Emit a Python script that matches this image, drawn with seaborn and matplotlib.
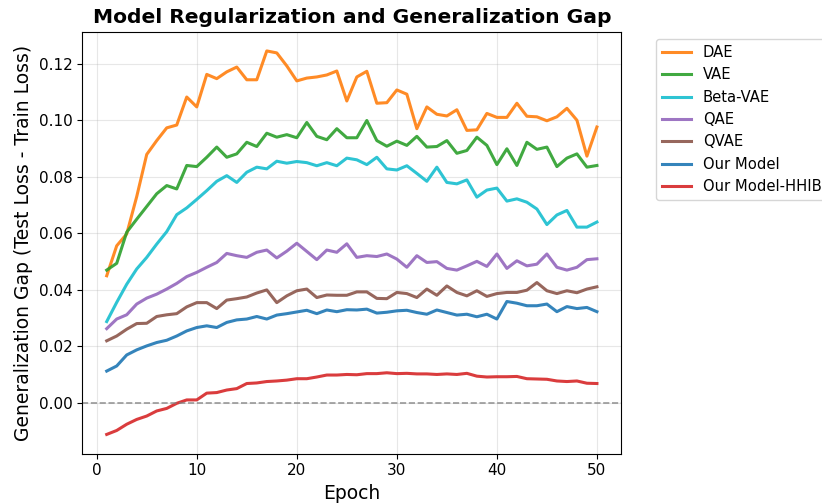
import numpy as np
import pandas as pd
import seaborn as sns
import matplotlib
matplotlib.use("Agg")
import matplotlib.pyplot as plt

# Generalization gap per epoch
epochs = list(range(1, 51))

dae = [0.0450, 0.0556, 0.0598, 0.0730, 0.0879, 0.0928, 0.0973, 0.0983, 0.1082, 0.1047,
       0.1162, 0.1147, 0.1171, 0.1188, 0.1143, 0.1143, 0.1245, 0.1238, 0.1192, 0.1139,
       0.1149, 0.1153, 0.1160, 0.1174, 0.1068, 0.1153, 0.1173, 0.1060, 0.1062, 0.1107,
       0.1092, 0.0970, 0.1047, 0.1021, 0.1015, 0.1037, 0.0964, 0.0966, 0.1024, 0.1010,
       0.1010, 0.1060, 0.1014, 0.1012, 0.0998, 0.1012, 0.1042, 0.1000, 0.0873, 0.0976]
vae = [0.0470, 0.0494, 0.0604, 0.0650, 0.0695, 0.0740, 0.0769, 0.0757, 0.0840, 0.0836,
       0.0869, 0.0905, 0.0869, 0.0881, 0.0922, 0.0907, 0.0954, 0.0940, 0.0949, 0.0938,
       0.0992, 0.0943, 0.0931, 0.0970, 0.0938, 0.0938, 0.0999, 0.0928, 0.0908, 0.0926,
       0.0911, 0.0943, 0.0905, 0.0907, 0.0928, 0.0883, 0.0893, 0.0940, 0.0911, 0.0843,
       0.0899, 0.0840, 0.0922, 0.0897, 0.0905, 0.0836, 0.0866, 0.0881, 0.0834, 0.0840]
beta_vae = [0.0288, 0.0356, 0.0420, 0.0474, 0.0515, 0.0562, 0.0606, 0.0666, 0.0690, 0.0720,
            0.0751, 0.0784, 0.0804, 0.0780, 0.0816, 0.0834, 0.0828, 0.0855, 0.0848, 0.0854,
            0.0850, 0.0839, 0.0850, 0.0839, 0.0866, 0.0860, 0.0843, 0.0869, 0.0828, 0.0824,
            0.0839, 0.0812, 0.0784, 0.0834, 0.0780, 0.0775, 0.0789, 0.0728, 0.0753, 0.0760,
            0.0714, 0.0722, 0.0710, 0.0686, 0.0631, 0.0665, 0.0681, 0.0622, 0.0622, 0.0640]
qae = [0.0263, 0.0297, 0.0312, 0.0350, 0.0371, 0.0385, 0.0403, 0.0423, 0.0447, 0.0462,
       0.0480, 0.0497, 0.0529, 0.0521, 0.0515, 0.0533, 0.0541, 0.0513, 0.0537, 0.0565,
       0.0536, 0.0507, 0.0541, 0.0533, 0.0563, 0.0515, 0.0521, 0.0518, 0.0527, 0.0509,
       0.0480, 0.0521, 0.0497, 0.0500, 0.0476, 0.0470, 0.0485, 0.0501, 0.0483, 0.0527,
       0.0476, 0.0503, 0.0485, 0.0491, 0.0527, 0.0480, 0.0470, 0.0480, 0.0507, 0.0510]
qvae = [0.0220, 0.0237, 0.0261, 0.0281, 0.0282, 0.0306, 0.0312, 0.0316, 0.0340, 0.0355,
        0.0355, 0.0334, 0.0364, 0.0369, 0.0375, 0.0389, 0.0400, 0.0355, 0.0379, 0.0397,
        0.0403, 0.0373, 0.0382, 0.0381, 0.0381, 0.0393, 0.0393, 0.0370, 0.0369, 0.0391,
        0.0387, 0.0373, 0.0403, 0.0381, 0.0414, 0.0391, 0.0379, 0.0397, 0.0377, 0.0387,
        0.0391, 0.0391, 0.0399, 0.0426, 0.0397, 0.0387, 0.0397, 0.0390, 0.0403, 0.0411]
our_model = [0.0113, 0.0131, 0.0170, 0.0188, 0.0202, 0.0214, 0.0222, 0.0237, 0.0255, 0.0267,
             0.0273, 0.0267, 0.0285, 0.0294, 0.0297, 0.0306, 0.0297, 0.0311, 0.0316, 0.0322,
             0.0328, 0.0316, 0.0329, 0.0323, 0.0330, 0.0329, 0.0332, 0.0318, 0.0321, 0.0326,
             0.0328, 0.0320, 0.0314, 0.0329, 0.0320, 0.0311, 0.0314, 0.0305, 0.0314, 0.0297,
             0.0359, 0.0353, 0.0344, 0.0344, 0.0350, 0.0323, 0.0341, 0.0334, 0.0338, 0.0323]
our_model_hhib = [-0.0111, -0.0097, -0.0075, -0.0058, -0.0046, -0.0028, -0.0019, -0.0001, 0.0011, 0.0011,
                  0.0035, 0.0037, 0.0046, 0.0051, 0.0069, 0.0071, 0.0076, 0.0078, 0.0081, 0.0086,
                  0.0086, 0.0092, 0.0099, 0.0099, 0.0101, 0.0100, 0.0104, 0.0104, 0.0107, 0.0104,
                  0.0105, 0.0103, 0.0103, 0.0101, 0.0103, 0.0101, 0.0105, 0.0095, 0.0092, 0.0093,
                  0.0093, 0.0094, 0.0086, 0.0085, 0.0084, 0.0078, 0.0076, 0.0078, 0.0070, 0.0069]

models = ['DAE', 'VAE', 'Beta-VAE', 'QAE', 'QVAE', 'Our Model', 'Our Model-HHIB']
series = [dae, vae, beta_vae, qae, qvae, our_model, our_model_hhib]
colors = ['tab:orange', 'tab:green', 'tab:cyan', 'tab:purple', 'tab:brown', 'tab:blue', 'tab:red']

# Long format for seaborn
df = pd.concat([pd.DataFrame({'Epoch': epochs, 'Gap': vals, 'Model': name})
                for name, vals in zip(models, series)], ignore_index=True)

fig, ax = plt.subplots(figsize=(8.22, 5.04), dpi=100)
sns.lineplot(data=df, x='Epoch', y='Gap', hue='Model', hue_order=models,
             palette=dict(zip(models, colors)), linewidth=2.2, alpha=0.9, ax=ax)

ax.axhline(0, color='gray', linestyle='--', linewidth=1.2, alpha=0.8)
ax.set_title('Model Regularization and Generalization Gap', fontsize=14.6, fontweight='bold')
ax.set_xlabel('Epoch', fontsize=13.5)
ax.set_ylabel('Generalization Gap (Test Loss - Train Loss)', fontsize=13.5)
ax.tick_params(labelsize=11)
ax.grid(True, alpha=0.3)
ax.legend(bbox_to_anchor=(1.05, 1), loc='upper left', fontsize=10.6)

plt.subplots_adjust(left=0.1, right=0.756, top=0.937, bottom=0.1)
plt.savefig("out.png", dpi=100)
